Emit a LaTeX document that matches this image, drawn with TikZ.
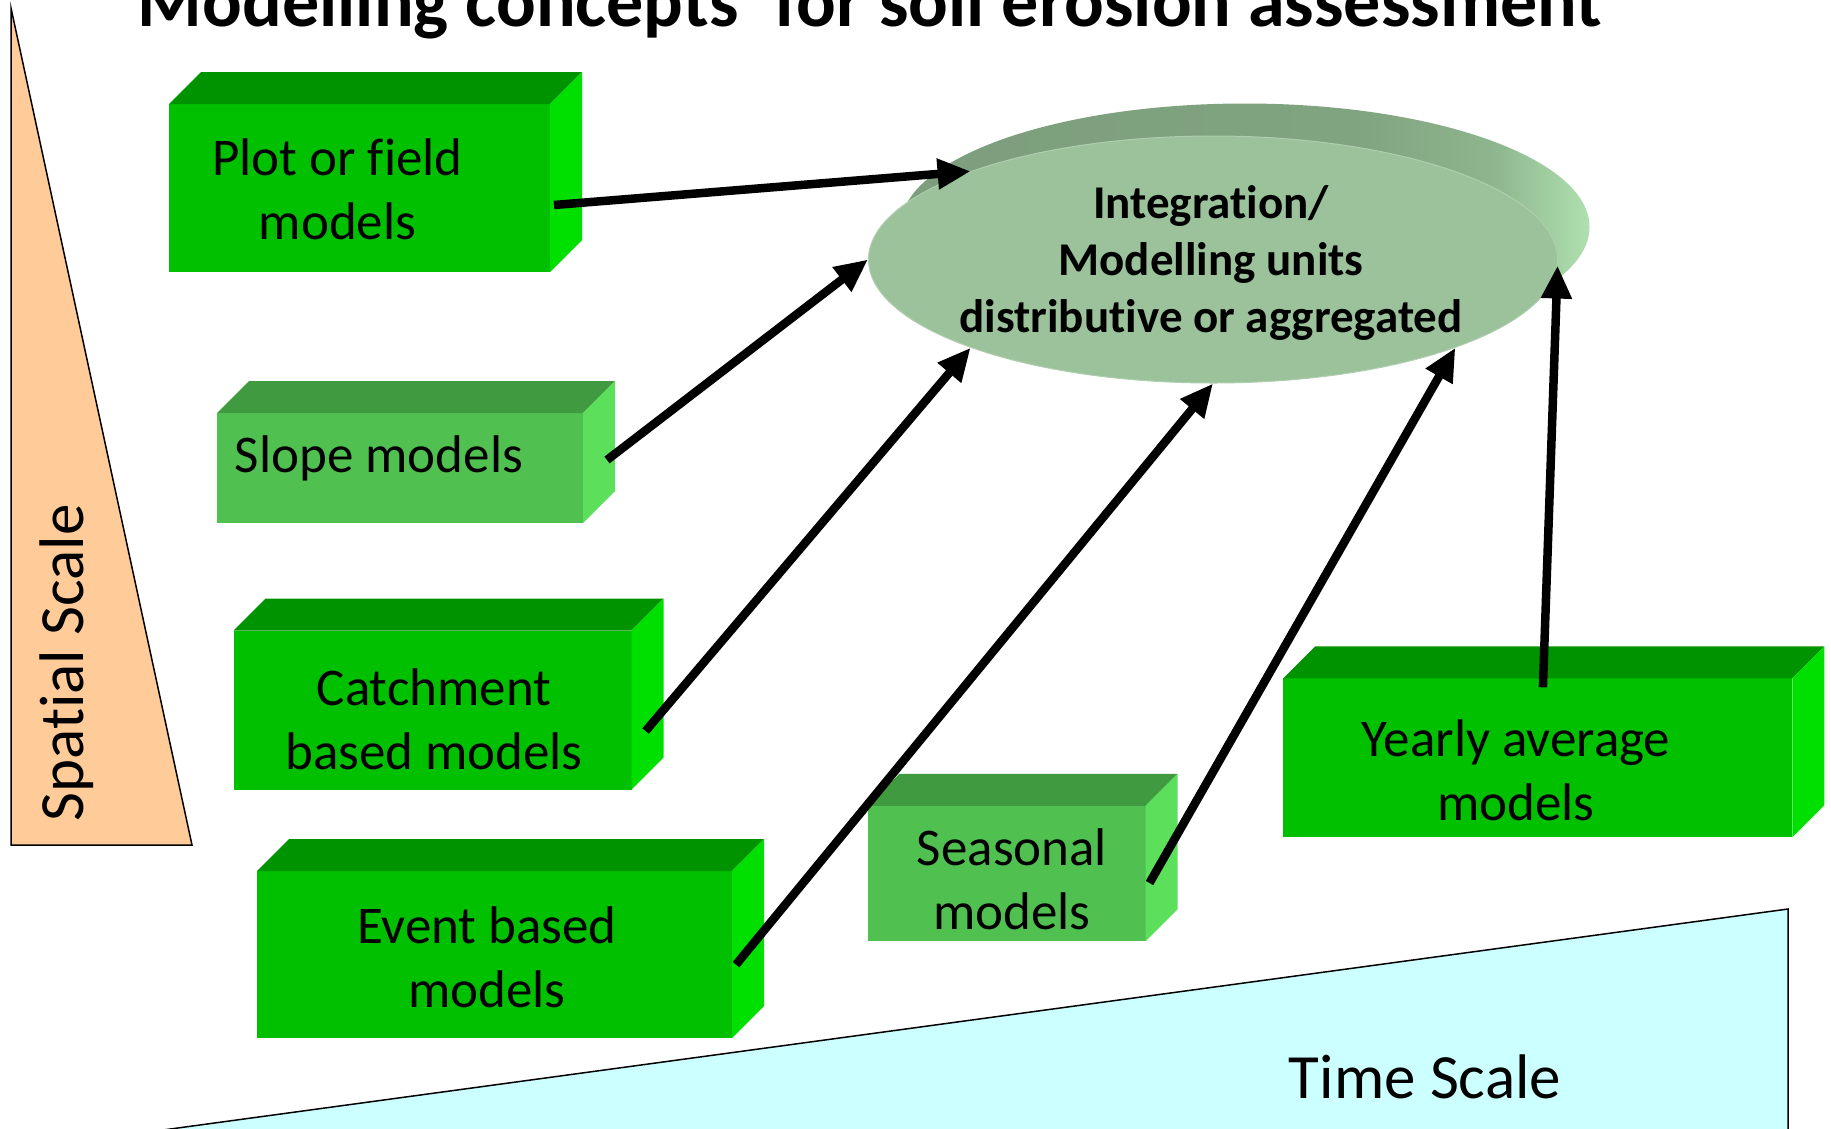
\documentclass[tikz,border=0pt]{standalone}
\usepackage{fontspec}
\setmainfont{Carlito}[Ligatures=CommonOff]
\usetikzlibrary{arrows.meta,shapes.geometric}
\definecolor{peach}{RGB}{255,204,153}
\definecolor{cyanl}{RGB}{204,255,255}
\definecolor{gfront}{RGB}{0,192,0}
\definecolor{gtop}{RGB}{0,147,0}
\definecolor{gside}{RGB}{0,224,0}
\definecolor{lfront}{RGB}{80,192,80}
\definecolor{ltop}{RGB}{64,154,64}
\definecolor{lside}{RGB}{92,224,92}
\definecolor{ellmain}{RGB}{155,194,155}
\definecolor{ellbackA}{RGB}{124,158,124}
\definecolor{ellbackB}{RGB}{175,224,175}
\pgfdeclarehorizontalshading{ellsh}{100bp}{color(0bp)=(ellbackA); color(25bp)=(ellbackA); color(58bp)=(ellbackA!92!ellbackB); color(68bp)=(ellbackA!65!ellbackB); color(75bp)=(ellbackB); color(100bp)=(ellbackB)}
\newcommand\cubefaces[3]{%
 \fill[#2] (#1.north west) -- ++(32,-32) -- ([shift={(32,-32)}]#1.north east) -- (#1.north east) -- cycle;
 \fill[#3] (#1.north east) -- ([shift={(32,-32)}]#1.north east) -- ([shift={(32,-32)}]#1.south east) -- (#1.south east) -- cycle;}
\tikzset{
 front/.style={rectangle, inner sep=0pt, outer sep=0pt},
 boxtext/.style={anchor=base, align=center, font=\fontsize{53}{64}\selectfont},
 scaletext/.style={font=\fontsize{63}{76}\selectfont},
 arr/.style={line width=8.5pt, -{Triangle[length=33pt,width=29pt]}},
 scaletri/.style={draw=black, line width=1.5pt, line join=miter}
}
\begin{document}
\begin{tikzpicture}[x=1pt,y=-1pt]
\useasboundingbox (0,0) rectangle (1831,1128);
% scales
\filldraw[scaletri, fill=peach] (11,8) -- (11,845) -- (192,845) -- cycle;
\node[scaletext, rotate=90, anchor=base] (spatial) at (83,663) {Spatial Scale};
\filldraw[scaletri, fill=cyanl] (163,1130) -- (1788,909) -- (1788,1130);
\node[scaletext, anchor=base] (time) at (1425,1098) {Time Scale};
% title
\node[anchor=base, font=\fontsize{74}{89}\selectfont\bfseries] (title) at (870,26) {Modelling concepts’ for soil erosion assessment};
% boxes
\node[front, fill=gfront, minimum width=381, minimum height=168] (plot) at (359.5,188) {};
\cubefaces{plot}{gtop}{gside}
\node[front, fill=lfront, minimum width=366, minimum height=110] (slope) at (400,468) {};
\cubefaces{slope}{ltop}{lside}
\node[front, fill=gfront, minimum width=398, minimum height=159] (catch) at (432.6,710) {};
\cubefaces{catch}{gtop}{gside}
\node[front, fill=gfront, minimum width=475, minimum height=167] (event) at (494.5,954.6) {};
\cubefaces{event}{gtop}{gside}
\node[front, fill=lfront, minimum width=278, minimum height=135.5] (seas) at (1006.5,873.5) {};
\cubefaces{seas}{ltop}{lside}
\node[front, fill=gfront, minimum width=509, minimum height=159] (year) at (1537.9,757.8) {};
\cubefaces{year}{gtop}{gside}
% box texts (base = baseline of the last line)
\node[boxtext] (plott) at (337.5,239) {Plot or field\\models};
\node[boxtext] (slopet) at (379,472) {Slope models};
\node[boxtext] (catcht) at (434,769) {Catchment\\based models};
\node[boxtext] (eventt) at (487,1007) {Event based\\models};
\node[boxtext] (seast) at (1012,929) {Seasonal\\models};
\node[boxtext] (yeart) at (1516,820) {Yearly average\\models};
% ellipse
\node[ellipse, inner sep=0pt, minimum width=689, minimum height=247, shading=ellsh] (ellback) at (1245,227) {};
\node[ellipse, inner sep=0pt, minimum width=689, minimum height=247, fill=ellmain, draw=ellmain!80!white, line width=1pt] (ell) at (1213,259.5) {};
\node[anchor=base, align=center, font=\fontsize{47}{57}\selectfont\bfseries] (ellt) at (1211,332) {Integration/\\Modelling units\\distributive or aggregated};
% arrows
\draw[arr] ([shift={(4,17)}]plot.east) -- (ell.160);
\draw[arr] ([shift={(24,-8)}]slope.east) -- (ell.180);
\draw[arr] ([shift={(14,21)}]catch.east) -- (ell.200);
\draw[arr] ([shift={(4,10)}]event.east) -- (ell.270);
\draw[arr] ([shift={(4,9.5)}]seas.east) -- (ell.340);
\draw[arr] ([shift={(5,9)}]year.north) -- (ell.359);
\end{tikzpicture}
\end{document}
